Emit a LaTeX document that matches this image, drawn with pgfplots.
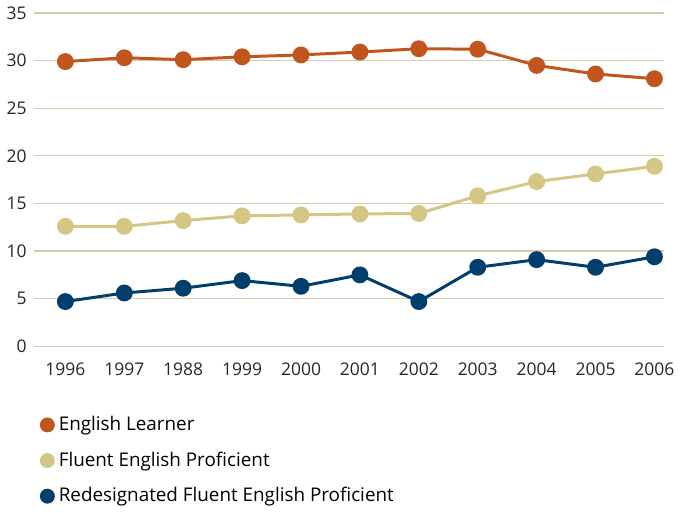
\documentclass[border=0pt]{standalone}
\usepackage{fontspec}
\setmainfont{Open Sans}
\usepackage{pgfplots}
\pgfplotsset{compat=1.18}
\definecolor{elc}{HTML}{C0561E}
\definecolor{fepc}{HTML}{D4C785}
\definecolor{rfepc}{HTML}{003F6B}
\definecolor{gridc}{HTML}{D6CCAA}
\begin{document}
\begin{tikzpicture}
\begin{axis}[
  width=318pt, height=168pt, scale only axis,
  xmin=-0.54, xmax=10.17, ymin=0, ymax=35,
  axis line style={draw=none},
  ytick={0,5,...,35},
  xtick={0,...,10},
  xticklabels={1996,1997,1988,1999,2000,2001,2002,2003,2004,2005,2006},
  major tick length=0pt,
  ymajorgrids, grid style={gridc, line width=0.6pt},
  tick label style={font=\fontsize{8.8}{10}\selectfont, text=black!85},
  /pgf/number format/assume math mode=true,
  xticklabel style={yshift=-5pt},
  clip=false,
  every axis plot/.append style={line width=1.5pt, mark=*, mark size=3.5pt},
  legend style={at={(0,-0.185)}, anchor=north west, draw=none, fill=none,
    font=\fontsize{9.5}{11}\selectfont, row sep=5.2pt,
    legend cell align=left},
  legend image code/.code={\fill[#1] (0.1cm,0cm) circle (3pt);},
]
\addplot[color=elc, mark options={fill=elc}] coordinates {
(0,29.9) (1,30.3) (2,30.1) (3,30.4) (4,30.6) (5,30.9) (6,31.25) (7,31.2) (8,29.5) (9,28.6) (10,28.1)};
\addlegendentry{English Learner}
\addplot[color=fepc, mark options={fill=fepc}] coordinates {
(0,12.6) (1,12.6) (2,13.2) (3,13.7) (4,13.8) (5,13.9) (6,13.95) (7,15.8) (8,17.3) (9,18.1) (10,18.9)};
\addlegendentry{Fluent English Proficient}
\addplot[color=rfepc, mark options={fill=rfepc}] coordinates {
(0,4.7) (1,5.6) (2,6.1) (3,6.9) (4,6.3) (5,7.5) (6,4.7) (7,8.3) (8,9.1) (9,8.3) (10,9.4)};
\addlegendentry{Redesignated Fluent English Proficient}
\end{axis}
\path ([xshift=4.5pt]current axis.east);
\end{tikzpicture}
\end{document}
